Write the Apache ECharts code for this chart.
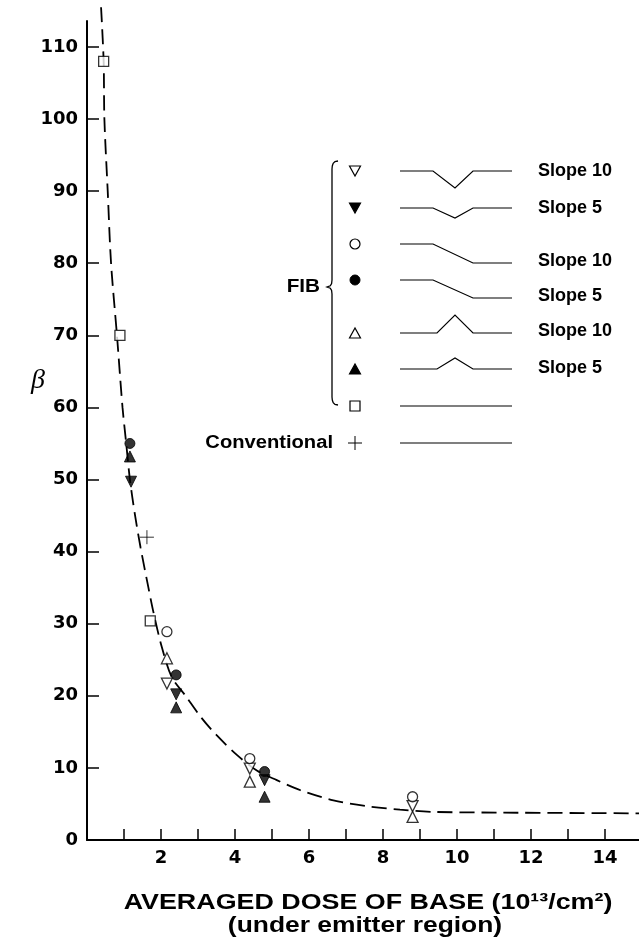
<!DOCTYPE html>
<html>
<head>
<meta charset="utf-8">
<script src="https://cdn.jsdelivr.net/npm/echarts@6/dist/echarts.min.js"></script>
<style>
  html, body { margin: 0; padding: 0; background: #fff; }
  #chart { width: 639px; height: 944px; }
</style>
</head>
<body>
<div id="chart"></div>
<script>
// dashed fitted curve
const curvePoints = [
  [0.38, 115.5], [0.45, 108], [0.47, 100], [0.56, 90], [0.65, 80], [0.81, 70],
  [0.96, 60], [1.06, 55], [1.16, 50], [1.30, 45], [1.45, 40.5], [1.66, 35],
  [1.80, 31.5], [2.02, 26.8], [2.29, 22.6], [2.65, 20.1], [3.1, 16.9],
  [3.51, 14.5], [4.05, 11.8], [4.6, 9.6], [5.13, 8.3], [5.77, 6.9],
  [6.66, 5.5], [7.56, 4.7], [8.46, 4.2], [9.36, 3.9], [11.1, 3.8], [14.95, 3.7]
]

// measured points, one array per marker
const vSlope10 = [[2.16, 21.7], [4.4, 9.9], [8.8, 4.7]]      // open down triangle
const vSlope5 = [[1.19, 49.7], [2.41, 20.2], [4.8, 8.3]]     // filled down triangle
const stepSlope10 = [[2.16, 28.9], [4.4, 11.3], [8.8, 6.0]]  // open circle
const stepSlope5 = [[1.16, 55.0], [2.41, 22.9], [4.8, 9.5]]  // filled circle
const peakSlope10 = [[2.16, 25.2], [4.4, 8.1], [8.8, 3.2]]   // open up triangle
const peakSlope5 = [[1.16, 53.2], [2.41, 18.4], [4.8, 6.0]]  // filled up triangle
const flatFib = [[0.45, 108], [0.89, 70], [1.71, 30.4]]      // open square
const conventional = [[1.62, 42.0]]                          // plus

const yTicks = [0, 10, 20, 30, 40, 50, 60, 70, 80, 90, 100, 110]
const xTicks = [1, 2, 3, 4, 5, 6, 7, 8, 9, 10, 11, 12, 13, 14]
const xLabels = [2, 4, 6, 8, 10, 12, 14]
const slopeLabels = ['Slope 10', 'Slope 5', 'Slope 10', 'Slope 5', 'Slope 10', 'Slope 5']

const chart = echarts.init(document.getElementById('chart'))

const boldFont = 'bold 18px "Liberation Sans", Arial, sans-serif'
const tickFont = { color: '#000', fontFamily: '"DejaVu Sans", sans-serif', fontWeight: 'bold', fontSize: 18 }
const open = { color: '#fff', borderColor: '#000', borderWidth: 1.3 }
const filled = { color: '#000', borderColor: '#000', borderWidth: 1 }
const plusPath = 'path://M0,5L10,5M5,0L5,10'

const scatter = (data, symbol, style, rotate, size) => ({
  type: 'scatter',
  data: data,
  symbol: symbol,
  symbolSize: size || 11,
  symbolRotate: rotate || 0,
  itemStyle: style,
  z: 5
})

// legend drawing (profile sketches next to each marker)
const legendRows = [171, 208, 244, 280, 333, 369, 406, 443]
const profiles = [
  [[400, 171], [433, 171], [455, 188], [473, 171], [512, 171]],
  [[400, 208], [433, 208], [455, 218], [473, 208], [512, 208]],
  [[400, 244], [433, 244], [473, 263], [512, 263]],
  [[400, 280], [433, 280], [473, 298], [512, 298]],
  [[400, 333], [437, 333], [455, 315], [473, 333], [512, 333]],
  [[400, 369], [437, 369], [455, 358], [473, 369], [512, 369]],
  [[400, 406], [512, 406]],
  [[400, 443], [512, 443]]
]
const slopeY = [171, 208, 261, 296, 331, 368]
const lx = 355

const graphic = []
profiles.forEach(p => graphic.push({
  type: 'polyline', shape: { points: p }, style: { stroke: '#000', lineWidth: 1.2, fill: null }
}))
slopeLabels.forEach((t, i) => graphic.push({
  type: 'text', x: 538, y: slopeY[i],
  style: { text: t, font: boldFont, fill: '#000', textVerticalAlign: 'middle' }
}))
const tri = (cy, down, fill) => {
  const h = 10, w = 11
  const pts = down
    ? [[lx - w / 2, cy - h / 2], [lx + w / 2, cy - h / 2], [lx, cy + h / 2]]
    : [[lx - w / 2, cy + h / 2], [lx + w / 2, cy + h / 2], [lx, cy - h / 2]]
  return { type: 'polygon', shape: { points: pts }, style: { fill: fill, stroke: '#000', lineWidth: 1.2 } }
}
graphic.push(tri(legendRows[0], true, '#fff'))
graphic.push(tri(legendRows[1], true, '#000'))
graphic.push({ type: 'circle', shape: { cx: lx, cy: legendRows[2], r: 5 }, style: { fill: '#fff', stroke: '#000', lineWidth: 1.2 } })
graphic.push({ type: 'circle', shape: { cx: lx, cy: legendRows[3], r: 5 }, style: { fill: '#000', stroke: '#000' } })
graphic.push(tri(legendRows[4], false, '#fff'))
graphic.push(tri(legendRows[5], false, '#000'))
graphic.push({ type: 'rect', shape: { x: lx - 5, y: legendRows[6] - 5, width: 10, height: 10 }, style: { fill: '#fff', stroke: '#000', lineWidth: 1.2 } })
graphic.push({ type: 'polyline', shape: { points: [[lx - 7, legendRows[7]], [lx + 7, legendRows[7]]] }, style: { stroke: '#000', lineWidth: 1 } })
graphic.push({ type: 'polyline', shape: { points: [[lx, legendRows[7] - 7], [lx, legendRows[7] + 7]] }, style: { stroke: '#000', lineWidth: 1 } })
// brace around the FIB rows
graphic.push({
  type: 'polyline',
  shape: {
    points: [
      [338, 161], [335, 161.6], [333.2, 163.4], [332.3, 166], [332, 169],
      [332, 280], [331.6, 283.5], [330.3, 285.8], [327, 287],
      [330.3, 288.2], [331.6, 290.5], [332, 294],
      [332, 397], [332.3, 400], [333.2, 402.6], [335, 404.4], [338, 405]
    ]
  },
  style: { stroke: '#000', lineWidth: 1.3, fill: null }
})
graphic.push({
  type: 'text', x: 320, y: 287, scaleX: 1.15,
  style: { text: 'FIB', font: boldFont, fill: '#000', textAlign: 'right', textVerticalAlign: 'middle' }
})
graphic.push({
  type: 'text', x: 333, y: 443, scaleX: 1.12,
  style: { text: 'Conventional', font: boldFont, fill: '#000', textAlign: 'right', textVerticalAlign: 'middle' }
})
// axis titles
graphic.push({
  type: 'text', x: 38, y: 381,
  style: { text: 'β', font: 'italic 28px "Liberation Serif", serif', fill: '#000', textAlign: 'center', textVerticalAlign: 'middle' }
})
graphic.push({
  type: 'text', x: 368, y: 903, scaleX: 1.22,
  style: { text: 'AVERAGED DOSE OF BASE (10¹³/cm²)', font: 'bold 22px "Liberation Sans", Arial, sans-serif', fill: '#000', textAlign: 'center', textVerticalAlign: 'middle' }
})
graphic.push({
  type: 'text', x: 365, y: 926, scaleX: 1.2,
  style: { text: '(under emitter region)', font: 'bold 22px "Liberation Sans", Arial, sans-serif', fill: '#000', textAlign: 'center', textVerticalAlign: 'middle' }
})

const option = {
  animation: false,
  backgroundColor: '#fff',
  grid: { left: 87, right: 0, top: 21, bottom: 104, containLabel: false },
  xAxis: {
    type: 'value',
    min: 0,
    max: 14.92,
    axisLine: { lineStyle: { color: '#000', width: 2 } },
    axisTick: { show: true, inside: true, length: 11, customValues: xTicks, lineStyle: { color: '#000', width: 1.5 } },
    axisLabel: Object.assign({ customValues: xLabels, margin: 9 }, tickFont),
    splitLine: { show: false }
  },
  yAxis: {
    type: 'value',
    min: 0,
    max: 113.6,
    axisLine: { show: true, lineStyle: { color: '#000', width: 2 } },
    axisTick: { show: true, inside: true, length: 12, customValues: yTicks, lineStyle: { color: '#000', width: 1.5 } },
    axisLabel: Object.assign({ customValues: yTicks, margin: 9 }, tickFont),
    splitLine: { show: false }
  },
  graphic: graphic,
  series: [
    {
      type: 'line',
      data: curvePoints,
      smooth: 0.3,
      showSymbol: false,
      clip: false,
      lineStyle: { color: '#000', width: 1.8, type: [15, 7] },
      z: 2
    },
    scatter(vSlope10, 'triangle', open, 180),
    scatter(vSlope5, 'triangle', filled, 180),
    scatter(stepSlope10, 'circle', open, 0, 10),
    scatter(stepSlope5, 'circle', filled, 0, 10),
    scatter(peakSlope10, 'triangle', open),
    scatter(peakSlope5, 'triangle', filled),
    scatter(flatFib, 'rect', open, 0, 10),
    {
      type: 'scatter',
      data: conventional,
      symbol: plusPath,
      symbolSize: 14,
      itemStyle: { color: '#000', borderColor: '#000', borderWidth: 1 },
      z: 5
    }
  ]
}

chart.setOption(option)
</script>
</body>
</html>
